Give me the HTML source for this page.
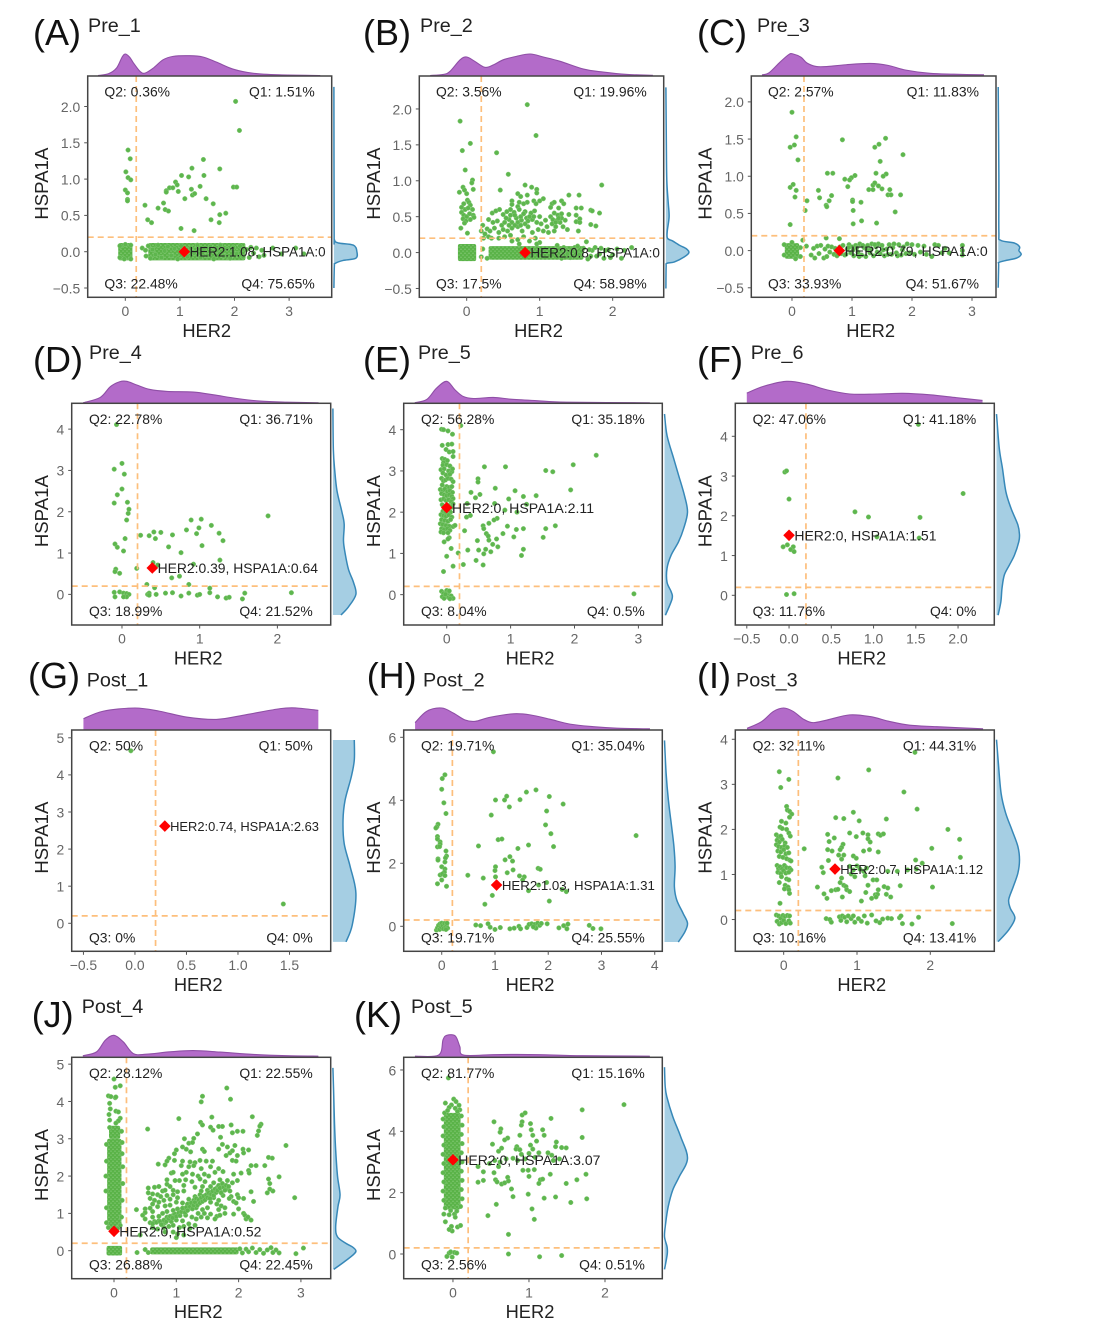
<!DOCTYPE html>
<html>
<head>
<meta charset="utf-8">
<title>HER2 vs HSPA1A scatter panels</title>
<style>
html,body{margin:0;padding:0;background:#fff;width:1096px;height:1323px;overflow:hidden}
svg{display:block;filter:blur(.35px)}
text{font-family:"Liberation Sans",sans-serif}
</style>
</head>
<body>
<svg id="figure" xmlns="http://www.w3.org/2000/svg" width="1096" height="1323" viewBox="0 0 1096 1323">
<defs>
<pattern id="speckle" width="4" height="4" patternUnits="userSpaceOnUse">
<rect width="4" height="4" fill="#5ab348"></rect>
<circle cx="1" cy="1.2" r=".6" fill="#97d38a"></circle>
<circle cx="3" cy="3.1" r=".6" fill="#8ccd7e"></circle>
</pattern>
</defs>
</svg>
<script>
// ---------- Pre_1 ----------
const pre1XTicks=["0","1","2","3"];
const pre1YTicks=["−0.5","0.0","0.5","1.0","1.5","2.0"];
const pre1Quadrants=["Q1: 1.51%","Q2: 0.36%","Q3: 22.48%","Q4: 75.65%"];
const pre1Median=[1.08,0];
const pre1MedianLabel="HER2:1.08, HSPA1A:0";
const pre1Clusters=[[-.13,.13,-.12,.12],[.42,2.2,-.12,.12]];
const pre1TopDensity=[[-.5,0],[-.31,.08],[-.16,.35],[-.06,.85],[0,1],[.08,.85],[.15,.58],[.27,.19],[.36,.11],[.51,.34],[.69,.73],[.875,.89],[1.18,.92],[1.42,.86],[1.67,.62],[1.97,.3],[2.33,.11],[2.82,.03],[3.57,0]];
const pre1RightDensity=[[-.5,0],[-.2,.02],[-.16,.06],[-.12,.4],[-.09,.95],[0,1],[.09,.85],[.12,.2],[.16,.03],[.3,.01],[2.27,0]];
const pre1Points=[[2.02,2.07],[2.09,1.67],[.05,1.4],[.09,1.28],[.01,1.1],[.05,1.02],[.1,.99],[0,.85],[.04,.81],[.04,.72],[.04,.7],[.36,.64],[.41,.44],[.48,.4],[.6,.6],[.7,.67],[.73,.58],[.79,.56],[.75,.84],[.75,.82],[.81,.88],[.87,.88],[.92,.96],[.95,.92],[.97,.83],[1.03,1.05],[1.09,.73],[1.16,1.03],[1.22,1.15],[1.21,.86],[1.23,.78],[1.27,.8],[1.37,.9],[1.44,1.05],[1.43,1.27],[1.48,.73],[1.61,.66],[1.73,1.14],[1.73,.51],[1.84,.53],[1.57,.44],[1.72,.4],[1.98,.89],[2.04,.89],[1.02,.32],[1.26,.29],
[.31,.05],[.37,.02],[.38,-.06],[.42,.08],[.46,-.09],[.5,.03],[.55,-.04],[.6,.09],[.66,-.08],[.72,.01],[.78,.07],[.84,-.05],[.9,.04],[.96,-.1],[1.02,.08],[1.14,-.07],[1.2,.05],[1.26,-.02],[1.32,.09],[1.38,-.08],[1.44,.03],[1.5,-.05],[1.56,.07],[1.62,-.1],[1.68,.02],[1.74,.09],[1.8,-.06],[1.86,.04],[1.92,-.09],[1.98,.06],[2.04,-.03],[2.1,.08],[2.16,-.07],[2.22,.03],[2.27,-.08],[2.3,.06],[2.35,-.02],[2.4,.05],[2.45,-.07],[2.5,.02],[2.54,-.05],[2.7,.05],[2.86,-.03],[3.12,.05],[3.27,-.03],
[-.1,.08],[-.1,-.08],[0,.1],[.1,-.1],[.1,.09],[-.02,-.1]];
// ---------- Pre_2 ----------
const pre2XTicks=["0","1","2"];
const pre2YTicks=["−0.5","0.0","0.5","1.0","1.5","2.0"];
const pre2Quadrants=["Q1: 19.96%","Q2: 3.56%","Q3: 17.5%","Q4: 58.98%"];
const pre2Median=[.8,0];
const pre2MedianLabel="HER2:0.8, HSPA1A:0";
const pre2Clusters=[[-.12,.13,-.12,.12],[.3,1.6,-.1,.09]];
const pre2TopDensity=[[-.5,0],[-.32,.05],[-.23,.19],[-.09,.73],[0,.86],[.11,.66],[.25,.38],[.37,.5],[.5,.73],[.68,.89],[.87,1],[1.05,.86],[1.28,.66],[1.6,.3],[1.87,.16],[2.2,.05],[2.55,.01]];
const pre2RightDensity=[[-.5,0],[-.2,.01],[-.15,.04],[-.13,.37],[-.06,.8],[0,1],[.055,.88],[.1,.6],[.16,.3],[.2,.07],[.3,.06],[.5,.14],[.7,.1],[1,.04],[1.5,.02],[2.3,0]];
const pre2Points=[[-.09,1.83],[.05,1.52],[-.06,1.42],[-.02,1.15],[.08,1.01],[.07,.97],[-.05,.91],[-.1,.84],[-.03,.87],[0,.82],[.09,.88],[.01,.73],[-.04,.68],[.03,.7],[.05,.66],[-.07,.63],[-.02,.6],[.02,.62],[.08,.6],[-.07,.56],[-.04,.52],[0,.5],[.04,.54],[.09,.52],[.1,.49],[-.05,.47],[-.01,.44],[.05,.46],[-.03,.41],[-.08,.34],[.01,.27],[.2,.3],[.22,.38],[.28,.33],[.23,.2],[.25,.26],[.3,.22],
[.83,2.06],[.95,1.63],[.41,1.39],[.57,1.09],[.46,.87],[.8,.94],[.89,.91],[.96,.88],[.96,.83],[.83,.8],[.7,.82],[.74,.78],[1,.72],[1.05,.75],[.92,.72],[.95,.68],[.83,.7],[.72,.7],[.62,.72],[.62,.67],[.7,.64],[.78,.68],[1.4,.8],[1.54,.8],[1.85,.94],[1.17,.68],[1.2,.7],[1.3,.72],[1.33,.68],[1.15,.63],[1.26,.62],[1.5,.62],[1.57,.62],[1.7,.59],[1.72,.58],[1.82,.55],[1.7,.39],[1.77,.37],[1.53,.3],[1.64,.15],
[.35,.55],[.4,.58],[.45,.6],[.5,.53],[.55,.57],[.6,.6],[.65,.56],[.72,.6],[.8,.57],[.88,.55],[.93,.58],[1,.5],[1.08,.45],[1.15,.5],[1.2,.55],[1.25,.52],[1.3,.48],[1.35,.45],[1.4,.53],[1.5,.52],[1.55,.47],[1.5,.43],[1.55,.42],[.3,.46],[.36,.42],[.42,.44],[.48,.38],[.52,.42],[.58,.46],[.62,.42],[.68,.48],[.75,.45],[.82,.48],[.9,.46],[.96,.42],[1.02,.4],[1.1,.36],[1.17,.4],[1.22,.36],[1.28,.42],[1.32,.36],[1.38,.32],[.32,.3],[.38,.34],[.44,.28],[.5,.32],[.56,.3],[.62,.34],[.7,.36],[.76,.3],[.84,.36],[.9,.28],[.98,.32],[1.05,.3],[1.12,.28],[1.2,.3],[.34,.2],[.44,.2],[.52,.22],[.6,.24],[.7,.18],[.78,.22],[.86,.16],[.94,.2],[1,.14],[.62,.16],[.72,.12],[.96,.12],
[.66,.52],[.74,.5],[.78,.54],[.84,.44],[.86,.5],[.92,.5],[.7,.42],[.6,.52],[.54,.48],[1.18,.46],[1.24,.45],[1.26,.48],[1.22,.42],[1.3,.54],[.58,.38],[.66,.38],[.74,.38],[.8,.4],
[1.25,.06],[1.3,-.08],[1.36,.04],[1.42,-.07],[1.48,.07],[1.54,-.03],[1.6,.06],[1.66,-.09],[1.72,.03],[1.78,-.05],[1.84,.06],[1.88,-.08],[1.94,.04],[2,-.03],[2.06,.05],[2.12,-.08],[2.16,.03],[2.26,.07],[.22,.05],[.2,-.06],[.28,-.08],[1.24,.1],[1.33,.07],[1.38,-.02],[1.45,.02],[1.52,.09],[1.68,.04],[1.7,-.05],[1.76,.07],[1.82,-.02],[1.9,.03],[1.97,-.07]];
// ---------- Pre_3 ----------
const pre3XTicks=["0","1","2","3"];
const pre3YTicks=["−0.5","0.0","0.5","1.0","1.5","2.0"];
const pre3Quadrants=["Q1: 11.83%","Q2: 2.57%","Q3: 33.93%","Q4: 51.67%"];
const pre3Median=[.79,0];
const pre3MedianLabel="HER2:0.79, HSPA1A:0";
const pre3Clusters=[[-.12,.12,-.11,.1]];
const pre3TopDensity=[[-.5,.03],[-.38,.13],[-.2,.62],[-.05,.98],[.02,1],[.15,.85],[.25,.58],[.4,.42],[.6,.42],[.9,.5],[1.3,.56],[1.6,.47],[1.9,.25],[2.3,.1],[2.7,.06],[3.2,.03]];
const pre3RightDensity=[[-.5,0],[-.2,.02],[-.16,.03],[-.13,.37],[-.1,.8],[-.05,1],[0,.9],[.05,.93],[.1,.72],[.14,.1],[.25,.03],[1,.03],[2.2,0]];
const pre3Points=[[0,1.86],[.84,1.49],[1.56,1.51],[.07,1.53],[-.03,1.39],[.04,1.42],[1.45,1.43],[1.38,1.39],[1.85,1.29],[.1,1.22],[1.47,1.2],[.59,1.04],[.68,1.04],[1.4,1.04],[1.57,1.03],[1.52,1],[1.05,1.01],[.99,.98],[.96,.95],[.88,.96],[.93,.86],[.02,.89],[-.03,.85],[.07,.81],[.05,.72],[.44,.81],[.46,.71],[.66,.74],[.62,.67],[.57,.61],[.58,.59],[.25,.67],[.22,.54],[1.01,.68],[1.01,.66],[1.15,.65],[1.02,.54],[1.72,.52],[1.02,.36],[1.16,.4],[1.41,.37],[-.03,.35],[1.28,.82],[1.35,.82],[1.35,.88],[1.38,.91],[1.44,.87],[1.5,.83],[1.63,.82],[1.6,.75],[1.65,.75],[1.81,.75],[.18,.14],[.24,.06],[.57,.17],[.79,.16],
[-.13,.08],[-.13,-.06],[.14,.04],[.14,-.08],[0,.11],[.06,-.11],
[.32,-.06],[.36,.03],[.38,-.1],[.42,.06],[.45,-.04],[.48,.07],[.53,-.1],[.55,.02],[.58,-.08],[.6,.06],[.63,-.02],[.66,.05],[.7,-.05],[.72,.03],[.75,-.07],[.8,.05],[.82,-.04],[.85,.07],[.88,-.06],[.92,.02],[.95,.08],[.98,-.03],[1,.05],[1.03,-.07],[1.06,.07],[1.1,-.02],[1.13,.09],[1.16,-.06],[1.2,.04],[1.23,-.08],[1.26,.07],[1.3,-.03],[1.33,.09],[1.36,-.07],[1.4,.05],[1.44,.09],[1.47,-.04],[1.5,.07],[1.54,-.07],[1.58,.02],[1.62,.08],[1.66,-.05],[1.7,.09],[1.74,-.03],[1.78,.08],[1.82,-.06],[1.86,.05],[1.92,.09],[1.96,-.03],[2,.08],[2.04,-.05],[2.1,.07],[2.14,-.02],[2.2,.06],[2.24,-.05],[2.33,-.08],[2.38,.08],[2.44,.07],[2.5,-.03],[2.55,.03],[2.62,-.03],[2.84,.07],[2.84,-.06],[2.84,0],
[.9,-.05],[.94,.04],[1.02,.01],[1.08,.04],[1.12,-.08],[1.18,.07],[1.25,.01],[1.32,.02],[1.38,.08],[1.42,-.02],[1.52,.01],[1.6,-.05],[1.68,.04],[1.76,-.07],[1.84,.01],[1.9,-.04]];
// ---------- Pre_4 ----------
const pre4XTicks=["0","1","2"];
const pre4YTicks=["0","1","2","3","4"];
const pre4Quadrants=["Q1: 36.71%","Q2: 22.78%","Q3: 18.99%","Q4: 21.52%"];
const pre4Median=[.39,.64];
const pre4MedianLabel="HER2:0.39, HSPA1A:0.64";
const pre4Clusters=[];
const pre4TopDensity=[[-.5,0],[-.28,.25],[-.15,.75],[-.03,.98],[.06,1],[.19,.83],[.36,.62],[.58,.53],[.92,.5],[1.18,.37],[1.48,.2],[1.78,.08],[2.12,.03],[2.53,0]];
const pre4RightDensity=[[-.5,.35],[-.3,.68],[0,1],[.3,.89],[.6,.68],[1,.53],[1.3,.46],[1.7,.49],[2,.39],[2.5,.18],[3,.08],[3.5,.02],[4.5,0]];
const pre4Points=[[-.07,4.11],[0,3.17],[-.1,3.03],[.03,2.91],[0,2.55],[-.06,2.41],[-.1,2.21],[.07,2.23],[.09,2.06],[.08,1.96],[.06,1.8],[.04,1.35],[-.09,1.22],[-.06,1.14],[.02,1.05],[-.08,.61],[-.09,.55],[-.03,.51],[.19,.63],[.24,1.43],[.35,1.42],[.41,1.51],[.43,1.35],[.5,1.5],[.65,1.44],[.6,1.15],[.76,1.01],[.83,1.56],[.89,1.8],[.99,1.61],[1.02,1.82],[.96,1.47],[1.03,1.18],[1.15,1.67],[1.25,1.48],[1.3,1.3],[1.88,1.9],[1.26,.83],[.4,.77],[.46,.71],[.92,.73],[.64,.4],[.74,.44],[.32,.24],[.86,.24],[.42,.16],[1.13,.15],[-.1,.05],[-.09,-.06],[-.03,.06],[.02,.03],[.04,-.03],[.06,.02],[.09,0],[.06,-.06],[.02,-.06],[.33,0],[.35,.03],[.35,-.02],[.44,0],[.56,.03],[.65,.04],[.76,-.04],[.86,.03],[.97,-.02],[1,0],[1.13,.04],[1.23,-.06],[1.34,-.09],[1.38,-.07],[1.55,-.11],[1.58,.03],[2.18,.04]];
// ---------- Pre_5 ----------
const pre5XTicks=["0","1","2","3"];
const pre5YTicks=["0","1","2","3","4"];
const pre5Quadrants=["Q1: 35.18%","Q2: 56.28%","Q3: 8.04%","Q4: 0.5%"];
const pre5Median=[0,2.11];
const pre5MedianLabel="HER2:0, HSPA1A:2.11";
const pre5Clusters=[];
const pre5TopDensity=[[-.5,0],[-.31,.16],[-.16,.68],[0,1],[.13,.6],[.26,.29],[.42,.2],[.73,.25],[1,.17],[1.41,.1],[1.88,.03],[3.18,0]];
const pre5RightDensity=[[-.5,.04],[-.1,.33],[.07,.29],[.3,.11],[.64,.11],[.96,.29],[1.28,.61],[1.6,.83],[2,1],[2.4,.87],[2.9,.61],[3.3,.4],[3.86,.11],[4.38,0]];
const pre5Points=[[-.08,4.01],[-.05,4],[.02,3.97],[.09,3.89],[.22,4.1],[-.07,3.62],[.02,3.64],[.08,3.65],[-.01,3.52],[.04,3.46],[.1,3.47],[.1,3.35],[-.07,3.3],[-.03,3.28],[-.05,3.2],[.01,3.25],[-.06,3.14],[0,3.15],[.05,3.12],[-.09,3.03],[-.04,3.05],[.03,3],[.08,2.98],[.09,3.05],[-.06,2.95],[-.01,2.9],[.05,2.92],[-.08,2.82],[-.05,2.76],[-.02,2.78],[.02,2.82],[.07,2.8],[.1,2.74],[-.07,2.66],[0,2.62],[.04,2.6],[.08,2.62],[-.1,2.55],[-.06,2.52],[-.03,2.56],[.01,2.5],[.05,2.52],[.09,2.48],[-.08,2.45],[-.04,2.42],[0,2.4],[.04,2.42],[.08,2.38],[.1,2.33],[-.09,2.3],[-.05,2.32],[-.01,2.28],[.03,2.3],[.07,2.26],[.1,2.2],[-.07,2.18],[.03,2.16],[.08,2.12],[-.06,2.02],[-.02,2],[.02,2.03],[.06,2],[-.09,1.94],[-.05,1.92],[-.01,1.9],[.03,1.93],[.08,1.88],[-.08,1.82],[-.03,1.8],[.02,1.78],[.06,1.82],[-.1,1.72],[-.06,1.7],[-.01,1.68],[.04,1.66],[.1,1.65],[.13,1.68],[-.08,1.6],[-.04,1.58],[.01,1.6],[.05,1.56],[-.09,1.52],[-.05,1.5],[.02,1.5],[.04,1.38],[.02,1.35],[-.04,1.28],[.07,1.12],[0,.93],[.18,1.01],[-.05,.56],[.1,.69],
[2.34,3.38],[1.98,3.15],[1.55,3.01],[1.66,2.98],[.59,3.1],[.92,3.1],[.49,2.81],[.49,2.73],[.76,2.58],[.38,2.48],[.52,2.43],[.45,2.35],[1.07,2.52],[.97,2.32],[1.2,2.38],[1.4,2.4],[1.94,2.54],[.32,2.21],[.75,2.21],[.91,2.05],[1.1,2],[1.25,2.19],[.31,1.88],[.37,1.92],[.79,1.85],[.74,1.81],[.66,1.73],[.57,1.67],[.58,1.6],[.95,1.66],[1.09,1.58],[1.2,1.6],[1.55,1.6],[1.7,1.67],[.28,1.55],[.88,1.48],[.62,1.48],[.65,1.42],[1.05,1.4],[.78,1.35],[.66,1.32],[.48,1.31],[1.51,1.39],[.72,1.22],[.8,1.16],[.61,1.1],[1.2,1.1],[.33,1.08],[.5,1.08],[.69,1.04],[.58,.99],[1.17,.95],[.46,.83],[.26,.73],[.57,.72],
[-.08,.08],[-.05,.03],[-.07,-.05],[-.04,-.09],[0,.1],[.02,.05],[.04,.09],[.01,-.03],[-.02,.01],[.03,-.07],[.07,-.03],[.1,-.09],[.05,-.1],[2.93,.02]];
// ---------- Pre_6 ----------
const pre6XTicks=["−0.5","0.0","0.5","1.0","1.5","2.0"];
const pre6YTicks=["0","1","2","3","4"];
const pre6Quadrants=["Q1: 41.18%","Q2: 47.06%","Q3: 11.76%","Q4: 0%"];
const pre6Median=[0,1.51];
const pre6MedianLabel="HER2:0, HSPA1A:1.51";
const pre6Clusters=[];
const pre6TopDensity=[[-.5,.45],[-.3,.77],[-.03,1],[.21,.87],[.45,.6],[.72,.41],[1.04,.41],[1.35,.44],[1.67,.37],[1.98,.24],[2.29,.11]];
const pre6RightDensity=[[-.5,.07],[-.16,.19],[.18,.24],[.51,.34],[.76,.56],[1.01,.78],[1.35,.97],[1.52,1],[1.77,.93],[2.19,.63],[2.6,.41],[3.19,.26],[3.7,.12],[4.56,0]];
const pre6Points=[[1.53,4.3],[-.05,3.1],[-.03,3.13],[0,2.42],[2.06,2.56],[.78,2.1],[.94,1.97],[1.55,1.96],[1.54,1.44],[1.04,1.47],[-.02,1.27],[-.07,1.22],[.05,1.22],[.02,1.15],[.06,1.1],[-.03,.02],[.06,.04]];
// ---------- Post_1 ----------
const post1XTicks=["−0.5","0.0","0.5","1.0","1.5"];
const post1YTicks=["0","1","2","3","4","5"];
const post1Quadrants=["Q1: 50%","Q2: 50%","Q3: 0%","Q4: 0%"];
const post1Median=[.29,2.62];
const post1MedianLabel="HER2:0.74, HSPA1A:2.63";
const post1Clusters=[];
const post1TopDensity=[[-.5,.5],[-.31,.85],[0,1],[.24,.85],[.5,.58],[.79,.47],[1.08,.69],[1.41,.97],[1.57,1],[1.78,.89]];
const post1RightDensity=[[-.5,.57],[-.05,.84],[.81,1],[1.53,.75],[2.15,.49],[2.78,.44],[3.32,.53],[3.95,.8],[4.4,.93],[4.94,.93]];
const post1Points=[[-.04,4.65],[1.44,.52]];
// ---------- Post_2 ----------
const post2XTicks=["0","1","2","3","4"];
const post2YTicks=["0","2","4","6"];
const post2Quadrants=["Q1: 35.04%","Q2: 19.71%","Q3: 19.71%","Q4: 25.55%"];
const post2Median=[1.03,1.31];
const post2MedianLabel="HER2:1.03, HSPA1A:1.31";
const post2Clusters=[];
const post2TopDensity=[[-.5,.32],[-.28,.85],[0,1],[.22,.76],[.44,.44],[.63,.38],[.91,.57],[1.35,.73],[1.66,.68],[2.03,.48],[2.41,.25],[2.85,.13],[3.29,.06],[3.91,.03]];
const post2RightDensity=[[-.5,.6],[-.17,.89],[.1,1],[.41,.81],[.84,.53],[1.26,.43],[1.9,.46],[2.53,.41],[3.16,.31],[4,.17],[4.86,.07],[5.9,0]];
const post2Points=[[.97,5.54],[.06,4.81],[.01,4.69],[0,4.35],[.04,3.92],[.08,3.58],[-.07,3.24],[-.09,3.16],[-.11,3.12],[-.08,2.85],[-.08,2.77],[-.03,2.68],[-.03,2.61],[-.08,2.52],[-.04,2.53],[.08,2.39],[.09,2.23],[-.07,2.14],[-.07,2.1],[.07,2.17],[.06,2.04],[0,1.89],[.06,1.82],[.05,1.72],[-.03,1.63],[.01,1.66],[.06,1.61],[0,1.47],[-.08,1.35],[.09,1.27],
[1.01,4.01],[1.18,4.01],[1.22,4.13],[1.27,3.79],[1.47,4.02],[1.59,4.26],[1.77,4.33],[2.02,4.12],[2.28,3.88],[.93,3.53],[1.97,3.66],[1.95,3.22],[2.05,2.94],[2.1,2.53],[3.65,2.88],[1.06,2.75],[1.13,2.77],[.69,2.55],[1.63,2.58],[1.43,2.47],[1.28,2.21],[1.19,2.11],[1.33,2.07],[1.01,1.89],[1,1.77],[1.23,1.7],[1.34,1.79],[1.81,1.84],[1.85,1.81],[.49,1.62],[.78,1.53],[1.01,1.57],[1.46,1.6],[1.55,1.57],[1.52,1.47],[1.82,1.31],[1.97,1.39],[1.63,1.13],[2.26,1.17],[2.34,1.1],[.95,.98],[2.02,.8],[.81,.7],
[-.1,-.12],[-.08,-.05],[-.06,.03],[-.04,-.1],[-.03,.08],[-.01,-.03],[0,.1],[.02,.02],[.03,-.08],[.05,.09],[.07,-.02],[.09,.05],[.1,.1],[.11,-.06],[.08,-.1],[.64,.04],[.73,.02],[.87,.08],[.91,-.03],[1,-.1],[1.1,-.04],[1.28,-.08],[1.36,-.06],[1.45,0],[1.48,-.08],[1.6,-.04],[1.64,.06],[1.69,.08],[1.75,.06],[1.77,-.06],[1.8,.1],[1.84,.03],[1.87,.09],[1.72,-.02],[1.98,.08],[2.2,-.05],[2.29,.02],[2.35,-.08],[2.37,.07],[2.77,.03],[2.84,-.07],[2.99,-.08]];
// ---------- Post_3 ----------
const post3XTicks=["0","1","2"];
const post3YTicks=["0","1","2","3","4"];
const post3Quadrants=["Q1: 44.31%","Q2: 32.11%","Q3: 10.16%","Q4: 13.41%"];
const post3Median=[.7,1.12];
const post3MedianLabel="HER2:0.7, HSPA1A:1.12";
const post3Clusters=[];
const post3TopDensity=[[-.5,.05],[-.3,.37],[-.14,.84],[0,1],[.13,.84],[.27,.48],[.4,.32],[.59,.44],[.9,.68],[1.18,.6],[1.45,.37],[1.72,.2],[2.09,.13],[2.72,.03]];
const post3RightDensity=[[-.49,.07],[-.23,.53],[.03,.8],[.25,.6],[.44,.53],[.73,.73],[1.03,.93],[1.32,1],[1.62,.93],[1.99,.67],[2.36,.4],[2.8,.2],[3.54,.07],[3.99,0]];
const post3Points=[[-.06,3.28],[.07,3.11],[-.04,2.93],[.74,3.14],[1.16,3.32],[1.79,3.71],[1.64,2.83],[1.82,2.45],[.04,2.51],[.05,2.43],[.08,2.4],[.11,2.34],[.08,2.27],[-.03,2.18],[.03,2.14],[-.05,2.05],[-.02,2.02],[.04,2],[.07,1.92],[.09,1.85],[-.1,1.88],[-.07,1.83],[-.04,1.85],[-.09,1.76],[-.06,1.72],[-.02,1.78],[.02,1.7],[-.1,1.66],[-.07,1.62],[-.03,1.6],[.01,1.63],[.05,1.6],[-.08,1.52],[-.04,1.5],[0,1.55],[.03,1.46],[.07,1.48],[-.06,1.4],[-.01,1.38],[.04,1.35],[.08,1.32],[.1,1.3],[-.09,1.2],[-.07,1.13],[-.05,1.17],[-.02,1.12],[.01,1.2],[.04,1.15],[.08,1.14],[.1,1.1],[-.08,1.05],[-.04,1.02],[0,1.08],[.03,1.03],[.07,1.05],[-.03,.95],[.04,.9],[.07,.88],[-.06,.82],[.02,.76],[.06,.72],[.01,.68],[.07,.66],[.08,.58],[-.05,.36],
[.71,2.26],[.82,2.24],[.95,2.38],[1.03,2.19],[1.4,2.23],[2.24,2],[2.4,1.78],[.6,1.89],[.9,1.92],[.99,1.84],[1.08,1.92],[1.15,1.88],[1.29,1.9],[1.32,1.87],[1.36,1.9],[.69,1.81],[.62,1.73],[1.15,1.79],[1.18,1.72],[.81,1.67],[.79,1.6],[.28,1.57],[.6,1.55],[.66,1.52],[.77,1.55],[1.09,1.52],[1.17,1.55],[1.29,1.5],[2.02,1.58],[.75,1.43],[.82,1.43],[.95,1.41],[.99,1.36],[2.41,1.38],[.79,1.34],[.61,1.31],[1.8,1.32],[1.89,1.25],[.52,1.16],[.54,1.04],[.73,1.12],[.9,1.18],[.95,1.1],[1,1.19],[1.04,1.12],[1.09,1.07],[1.13,1.14],[.97,.95],[.92,1.01],[1.11,.97],[1.42,1.07],[1.55,1.07],[1.69,1.1],[1.81,1.12],[.79,.92],[1.22,.88],[1.27,.88],[.77,.82],[.82,.76],[.85,.73],[1.15,.76],[.46,.72],[.71,.66],[.65,.64],[.74,.67],[.86,.66],[.9,.62],[1.37,.73],[1.42,.7],[1.59,.75],[2.03,.72],[1.12,.6],[1.29,.66],[1.25,.55],[1.28,.56],[1.4,.56],[.55,.57],[.59,.47],[.8,.5],[1.2,.47],[1.26,.5],[1.46,.5],[1.06,.41],
[-.1,.1],[-.09,-.04],[-.07,.08],[-.06,-.1],[-.04,.03],[-.03,-.07],[-.01,.09],[0,-.02],[.02,.07],[.03,-.09],[.05,.09],[.07,-.03],[.08,.08],[.09,-.08],[.58,.02],[.63,0],[.65,-.06],[.76,.06],[.78,-.02],[.8,.08],[.83,.05],[.86,-.05],[.88,.08],[.92,.02],[.95,.08],[.97,-.06],[1.02,.02],[1.06,-.04],[1.1,.08],[1.14,-.08],[1.2,.1],[1.26,-.03],[1.31,-.07],[1.35,.01],[1.42,.03],[1.47,.02],[1.58,.04],[1.6,.08],[1.62,-.09],[1.75,-.1],[1.84,.05],[2.3,-.09]];
// ---------- Post_4 ----------
const post4XTicks=["0","1","2","3"];
const post4YTicks=["0","1","2","3","4","5"];
const post4Quadrants=["Q1: 22.55%","Q2: 28.12%","Q3: 26.88%","Q4: 22.45%"];
const post4Median=[0,.52];
const post4MedianLabel="HER2:0, HSPA1A:0.52";
const post4Clusters=[[-.12,.13,-.13,.13],[-.11,.12,.62,3],[-.08,.1,3,3.35],[.58,2,-.1,.09]];
const post4TopDensity=[[-.5,.05],[-.28,.23],[-.14,.77],[0,1],[.15,.69],[.31,.15],[.52,.12],[.9,.23],[1.27,.29],[1.7,.22],[2.24,.11],[2.77,.05],[3.28,.03]];
const post4RightDensity=[[-.5,.04],[-.3,.49],[-.1,.9],[0,1],[.1,.85],[.2,.56],[.37,.2],[.64,.12],[1.18,.22],[1.5,.31],[2,.2],[2.7,.12],[3.4,.07],[4.3,.03],[4.9,0]];
const post4Points=[[.0,4.6],[.1,4.42],[.02,4.38],[-.09,4.15],[-.05,4.13],[.02,4.1],[.03,4.12],[-.07,3.95],[-.06,3.8],[-.08,3.65],[.03,3.74],[.07,3.72],[-.07,3.5],[.1,3.55],[.07,3.48],[.03,3.42],[-.07,3.3],[.12,3.2],[.13,2.9],[-.12,2.85],[.13,2.6],[-.12,2.4],[.14,2.25],[-.13,2],[.14,1.8],[-.13,1.6],[.13,1.35],[-.12,1.15],[.12,.9],[-.12,.75],[-.09,.62],[.06,.6],[-.02,.58],[.1,.68],
[1.81,4.36],[1.42,4.14],[1.4,3.99],[1.87,4.06],[1.04,3.54],[1.57,3.58],[2.22,3.59],[.54,3.26],[1.39,3.44],[1.42,3.37],[1.55,3.31],[1.68,3.33],[1.74,3.33],[1.88,3.37],[2.36,3.39],[2.34,3.34],[2.32,3.21],[2.3,3.09],[1.59,3.23],[1.9,3.16],[1.98,3.2],[2.07,3.2],[1.34,3.13],[1.28,3.01],[1.13,3],[1.71,3.04],[2.76,2.82],[1.2,2.88],[1.26,2.9],[1.1,2.78],[1.74,2.85],[1.82,2.78],[1.94,2.82],[2.07,2.72],[2.08,2.62],[2.16,2.7],[1.0,2.7],[.97,2.6],[1.16,2.72],[1.23,2.65],[1.42,2.72],[1.45,2.66],[1.68,2.72],[1.86,2.62],[1.8,2.55],[1.9,2.68],[1.98,2.55],[.97,2.42],[.88,2.48],[.85,2.4],[.82,2.3],[.71,2.32],[1.1,2.4],[1.22,2.38],[1.3,2.36],[1.38,2.42],[1.48,2.4],[1.58,2.4],[1.9,2.42],[1.96,2.4],[2.48,2.5],[2.54,2.48],[2.2,2.28],[2.28,2.28],[2.42,2.28],[1.08,2.28],[1.2,2.25],[1.28,2.28],[1.4,2.2],[1.55,2.25],[1.68,2.2],[2.16,2.15],[2.17,2.08],[2.65,1.98],[.92,2.08],[.95,2.1],[1.1,2.05],[1.16,2.1],[1.26,2.05],[1.35,2],[1.45,2.05],[1.62,2.1],[1.52,2],[1.75,2.12],[1.92,2.05],[2.04,2.08],[1.05,1.88],[.98,1.88],[.85,1.9],[1.15,1.9],[1.25,1.85],[1.38,1.92],[1.46,1.85],[1.6,1.82],[1.7,1.9],[1.82,1.88],[1.9,1.82],[1.98,1.88],[2.48,1.92],[2.5,1.8],[.85,1.78],[.9,1.72],[1.12,1.75],[1.3,1.7],[1.42,1.72],[1.55,1.72],[1.66,1.7],[1.75,1.72],[1.8,1.65],[.55,1.68],[.65,1.7],[.72,1.72],[.78,1.6],[.82,1.62],[.95,1.62],[1.02,1.58],[1.12,1.6],[1.4,1.6],[1.5,1.62],[1.62,1.58],[1.7,1.6],[2.55,1.6],[2.5,1.65],[2.46,1.55],[2.2,1.58],[.55,1.55],[.62,1.52],[.7,1.5],[.75,1.45],[.85,1.48],[.95,1.5],[1.02,1.42],[1.3,1.45],[1.38,1.5],[1.5,1.48],[1.58,1.5],[1.75,1.48],[1.88,1.45],[1.98,1.5],[.58,1.4],[.65,1.35],[.72,1.3],[.8,1.35],[.9,1.38],[1,1.3],[1.2,1.38],[1.28,1.35],[1.44,1.38],[1.6,1.42],[1.68,1.35],[1.85,1.4],[1.92,1.32],[2,1.42],[2.08,1.4],[2.9,1.42],[.5,1.12],[.58,1.14],[.62,1.25],[.7,1.18],[.82,1.2],[.9,1.22],[1.1,1.28],[1.18,1.25],[1.25,1.22],[1.36,1.28],[1.55,1.3],[1.65,1.25],[1.72,1.2],[1.96,1.28],[2.24,1.32],[.36,1.1],[.5,1.02],[.62,1.05],[.78,1],[.85,1.05],[.95,1.08],[1.02,1.12],[1.12,1.08],[1.2,1.12],[1.32,1.15],[1.42,1.1],[1.5,1.15],[1.68,1.1],[1.78,1.15],[2.0,1.12],[.46,.95],[.5,.85],[.62,.9],[.72,.92],[.85,.9],[.95,.95],[1.05,.98],[1.15,.95],[1.25,.9],[1.35,1],[1.45,1],[1.55,.98],[1.65,.92],[1.78,1],[1.92,.98],[2.08,1],[2.1,.95],[.58,.75],[.65,.78],[.72,.8],[.82,.75],[.92,.78],[1,.82],[1.1,.8],[1.2,.72],[1.32,.85],[1.4,.9],[1.5,.88],[1.62,.85],[1.7,.95],[2.12,.85],[2.15,.9],[2.2,.82],[.42,.42],[.62,.62],[.7,.58],[.8,.62],[.88,.65],[.95,.68],[1.05,.62],[1.12,.65],[1.22,.6],[1.3,.68],[.95,.5],[1.02,.45],[1.12,.42],[.82,.5],[1.0,.35],
[.62,.72],[.68,.76],[.74,.78],[.76,.7],[.8,.82],[.84,.78],[.88,.86],[.9,.92],[.94,.88],[.98,.98],[1,.92],[1.04,1.02],[1.06,.94],[1.08,1.04],[1.1,1.14],[1.14,1.02],[1.16,1.16],[1.18,1.08],[1.22,1.18],[1.24,1.28],[1.26,1.12],[1.28,1.22],[1.3,1.3],[1.32,1.4],[1.34,1.22],[1.36,1.36],[1.38,1.28],[1.4,1.42],[1.42,1.32],[1.44,1.46],[1.46,1.36],[1.48,1.5],[1.5,1.42],[1.52,1.55],[1.54,1.4],[1.56,1.52],[1.58,1.6],[1.6,1.48],[1.62,1.65],[1.64,1.56],[1.66,1.62],[1.68,1.75],[1.7,1.68],[1.72,1.55],[1.74,1.8],[1.76,1.7],[1.78,1.62],[1.8,1.75],[1.84,1.72],[1.86,1.6],
[.37,-.05],[.5,.03],[.55,-.05],[2.02,.05],[2.06,-.06],[2.12,.04],[2.16,-.03],[2.22,.07],[2.28,-.05],[2.34,.03],[2.4,-.07],[2.46,.02],[2.52,.08],[2.55,-.05],[2.6,.02],[2.65,-.06],[2.92,-.08],[3.04,.07]];
// ---------- Post_5 ----------
const post5XTicks=["0","1","2"];
const post5YTicks=["0","2","4","6"];
const post5Quadrants=["Q1: 15.16%","Q2: 81.77%","Q3: 2.56%","Q4: 0.51%"];
const post5Median=[0,3.07];
const post5MedianLabel="HER2:0, HSPA1A:3.07";
const post5Clusters=[[-.12,.1,1.45,4.6]];
const post5TopDensity=[[-.5,.03],[-.19,.08],[-.13,.8],[-.08,1],[.03,.97],[.09,.48],[.14,.08],[.53,.1],[.84,.11],[1.14,.1],[1.71,.05],[2.59,.03]];
const post5RightDensity=[[-.5,0],[0,.12],[.24,.11],[.57,0],[1,.05],[1.54,.16],[2.09,.36],[2.52,.64],[3.12,1],[3.83,.7],[4.48,.36],[5.13,.1],[5.46,.03],[6.09,0]];
const post5Points=[[-.06,5.74],[.01,5.05],[.04,4.97],[-.1,4.92],[-.02,4.86],[.08,4.85],[.09,4.7],[-.11,4.6],[-.05,4.78],[.03,4.75],[-.12,1.3],[-.05,1.28],[.02,1.3],[.03,1.2],[-.1,1.05],[-.02,.9],[.06,.88],[.1,.93],[-.01,.75],[-.05,.8],[-.05,.03],[-.08,-.08],[-.03,.07],[-.01,-.1],[.02,.05],[.05,.03],
[-.13,4.4],[.11,4.5],[-.12,4.15],[.12,4.2],[-.13,3.85],[.11,3.9],[-.12,3.55],[.12,3.6],[-.13,3.25],[.11,3.3],[-.12,2.95],[.12,3],[-.13,2.65],[.11,2.7],[-.12,2.35],[.12,2.4],[-.13,2.05],[.11,2.1],[-.12,1.75],[.12,1.8],[-.1,1.5],[.1,1.55],[.05,1.4],[-.03,1.42],[-.07,4.68],[.06,4.65],
[2.25,4.87],[1.7,4.7],[.91,4.53],[.95,4.6],[1.29,4.42],[.54,4.31],[.91,4.31],[.9,4.2],[1.02,4.25],[1.03,4.05],[1.18,4.05],[.63,4.08],[.62,3.97],[1.2,3.87],[1.05,3.87],[.88,3.87],[1.7,3.8],[1.1,3.68],[1.36,3.65],[.72,3.78],[.68,3.72],[.52,3.58],[1.02,3.55],[1.35,3.5],[1.43,3.47],[1.49,3.46],[.84,3.5],[.83,3.42],[.88,3.4],[.64,3.45],[.6,3.35],[1.05,3.42],[1.13,3.3],[1,3.28],[.9,3.25],[.79,3.12],[.85,3.05],[.95,3.1],[1.08,3.15],[1.25,3.3],[1.3,3.22],[1.32,3.05],[1.4,3.1],[.7,3.1],[.62,3],[.55,3.05],[.48,2.95],[.33,2.85],[.6,2.85],[.54,2.65],[.4,2.68],[.92,2.73],[.99,2.73],[1.07,2.75],[1.28,2.6],[1,2.53],[1.15,2.42],[1.18,2.44],[1.75,2.6],[1.63,2.42],[1.49,2.3],[.72,2.5],[.73,2.38],[.56,2.42],[.58,2.35],[.64,2.28],[.68,2.32],[.33,2.34],[.4,2.4],[.77,2.12],[1.13,2.3],[.99,1.95],[.79,1.87],[1.2,1.82],[1.35,1.86],[1.76,1.8],[1.55,1.68],[.57,1.62],[1.04,1.47],[1.07,1.13],[.46,1.25],[.73,.64],[.73,0],[1.14,-.09],[1.43,-.05]];

// ---------- Layout (geometry only, separate from the data) ----------
const panelLayouts=[
 {id:"pre-1",title:"Pre_1",letter:"(A)",box:[87.7,76,331.7,297.3],xDomain:[-.689,3.78],yDomain:[-.628,2.42],letterPos:[33,45],titlePos:[88,32],yTitleX:41.5,labelSize:13.4,qInset:[16.7,17]},
 {id:"pre-2",title:"Pre_2",letter:"(B)",box:[419.3,76,663.7,297.3],xDomain:[-.649,2.699],yDomain:[-.623,2.459],letterPos:[363,45],titlePos:[420,32],yTitleX:373.5,labelSize:13.5,qInset:[16.7,17]},
 {id:"pre-3",title:"Pre_3",letter:"(C)",box:[751.3,76,996,297.3],xDomain:[-.678,3.4],yDomain:[-.628,2.348],letterPos:[697,45],titlePos:[757,32],yTitleX:705,labelSize:14.1,qInset:[16.7,17]},
 {id:"pre-4",title:"Pre_4",letter:"(D)",box:[71.7,403.3,330.7,625],xDomain:[-.647,2.686],yDomain:[-.741,4.625],letterPos:[33,372],titlePos:[89,359],yTitleX:41.5,labelSize:13.9,qInset:[17.3,18]},
 {id:"pre-5",title:"Pre_5",letter:"(E)",box:[403.7,403.3,662.3,625],xDomain:[-.673,3.374],yDomain:[-.736,4.64],letterPos:[363,372],titlePos:[418,359],yTitleX:373.5,labelSize:14.1,qInset:[17.3,17.5]},
 {id:"pre-6",title:"Pre_6",letter:"(F)",box:[735.3,403.3,994.3,625],xDomain:[-.636,2.429],yDomain:[-.747,4.83],letterPos:[697,372],titlePos:[750.7,359],yTitleX:705,labelSize:14,qInset:[17.3,18]},
 {id:"post-1",title:"Post_1",letter:"(G)",box:[71.7,730,330.7,951.3],xDomain:[-.614,1.9],yDomain:[-.755,5.21],letterPos:[28,688],titlePos:[86.7,686.7],yTitleX:41.5,labelSize:12.9,qInset:[17.3,18]},
 {id:"post-2",title:"Post_2",letter:"(H)",box:[403.7,730,662.3,951.3],xDomain:[-.714,4.142],yDomain:[-.794,6.232],letterPos:[366.7,688],titlePos:[423,686.7],yTitleX:373.5,labelSize:13.25,qInset:[17.3,17.5]},
 {id:"post-3",title:"Post_3",letter:"(I)",box:[735.3,730,994.3,951.3],xDomain:[-.66,2.873],yDomain:[-.705,4.206],letterPos:[697,688],titlePos:[736,686.7],yTitleX:705,labelSize:13,qInset:[17.3,18]},
 {id:"post-4",title:"Post_4",letter:"(J)",box:[71.7,1057.3,330.7,1278.7],xDomain:[-.679,3.478],yDomain:[-.751,5.184],letterPos:[31.7,1027],titlePos:[81.7,1013],yTitleX:41.5,labelSize:14,qInset:[17.3,18]},
 {id:"post-5",title:"Post_5",letter:"(K)",box:[403.7,1057.3,662.3,1278.7],xDomain:[-.648,2.754],yDomain:[-.805,6.413],letterPos:[354,1027],titlePos:[411,1013],yTitleX:373.5,labelSize:14,qInset:[17.3,17.5]}
];
const panelSeries=[
 {xTicks:pre1XTicks,yTicks:pre1YTicks,quadrants:pre1Quadrants,median:pre1Median,medianLabel:pre1MedianLabel,clusters:pre1Clusters,top:pre1TopDensity,right:pre1RightDensity,points:pre1Points},
 {xTicks:pre2XTicks,yTicks:pre2YTicks,quadrants:pre2Quadrants,median:pre2Median,medianLabel:pre2MedianLabel,clusters:pre2Clusters,top:pre2TopDensity,right:pre2RightDensity,points:pre2Points},
 {xTicks:pre3XTicks,yTicks:pre3YTicks,quadrants:pre3Quadrants,median:pre3Median,medianLabel:pre3MedianLabel,clusters:pre3Clusters,top:pre3TopDensity,right:pre3RightDensity,points:pre3Points},
 {xTicks:pre4XTicks,yTicks:pre4YTicks,quadrants:pre4Quadrants,median:pre4Median,medianLabel:pre4MedianLabel,clusters:pre4Clusters,top:pre4TopDensity,right:pre4RightDensity,points:pre4Points},
 {xTicks:pre5XTicks,yTicks:pre5YTicks,quadrants:pre5Quadrants,median:pre5Median,medianLabel:pre5MedianLabel,clusters:pre5Clusters,top:pre5TopDensity,right:pre5RightDensity,points:pre5Points},
 {xTicks:pre6XTicks,yTicks:pre6YTicks,quadrants:pre6Quadrants,median:pre6Median,medianLabel:pre6MedianLabel,clusters:pre6Clusters,top:pre6TopDensity,right:pre6RightDensity,points:pre6Points},
 {xTicks:post1XTicks,yTicks:post1YTicks,quadrants:post1Quadrants,median:post1Median,medianLabel:post1MedianLabel,clusters:post1Clusters,top:post1TopDensity,right:post1RightDensity,points:post1Points},
 {xTicks:post2XTicks,yTicks:post2YTicks,quadrants:post2Quadrants,median:post2Median,medianLabel:post2MedianLabel,clusters:post2Clusters,top:post2TopDensity,right:post2RightDensity,points:post2Points},
 {xTicks:post3XTicks,yTicks:post3YTicks,quadrants:post3Quadrants,median:post3Median,medianLabel:post3MedianLabel,clusters:post3Clusters,top:post3TopDensity,right:post3RightDensity,points:post3Points},
 {xTicks:post4XTicks,yTicks:post4YTicks,quadrants:post4Quadrants,median:post4Median,medianLabel:post4MedianLabel,clusters:post4Clusters,top:post4TopDensity,right:post4RightDensity,points:post4Points},
 {xTicks:post5XTicks,yTicks:post5YTicks,quadrants:post5Quadrants,median:post5Median,medianLabel:post5MedianLabel,clusters:post5Clusters,top:post5TopDensity,right:post5RightDensity,points:post5Points}
];
const thresholdValue=.2;

const NS="http://www.w3.org/2000/svg";
const root=document.getElementById("figure");
function make(tag,parent,attrs,text){
  const el=document.createElementNS(NS,tag);
  for(const k in attrs)el.setAttribute(k,attrs[k]);
  if(text!==undefined)el.textContent=text;
  parent.appendChild(el);
  return el;
}
function linear(domain,range){
  return v=>range[0]+(v-domain[0])*(range[1]-range[0])/(domain[1]-domain[0]);
}
function parseTick(s){return Number(s.replace("−","-"));}
function smoothPath(pts){
  let d="";
  for(let i=0;i<pts.length-1;i++){
    const p0=pts[Math.max(i-1,0)],p1=pts[i],p2=pts[i+1],p3=pts[Math.min(i+2,pts.length-1)];
    const c1=[p1[0]+(p2[0]-p0[0])/6,p1[1]+(p2[1]-p0[1])/6];
    const c2=[p2[0]-(p3[0]-p1[0])/6,p2[1]-(p3[1]-p1[1])/6];
    d+=`C${c1[0].toFixed(2)} ${c1[1].toFixed(2)} ${c2[0].toFixed(2)} ${c2[1].toFixed(2)} ${p2[0].toFixed(2)} ${p2[1].toFixed(2)}`;
  }
  return d;
}
const TOP_H=21.5,RIGHT_W=23,RIGHT_GAP=2.2;

panelLayouts.forEach((layout,idx)=>{
  const s=panelSeries[idx];
  const [l,t,r,b]=layout.box;
  const xScale=linear(layout.xDomain,[l,r]);
  const yScale=linear(layout.yDomain,[b,t]);
  const g=make("g",root,{});
  
  

  const letter=make("text",g,{x:layout.letterPos[0],y:layout.letterPos[1],"font-size":36,fill:"#111"},layout.letter);
  
  
  const title=make("text",g,{x:layout.titlePos[0],y:layout.titlePos[1],"font-size":19.8,fill:"#222"},layout.title);
  
  

  // top marginal density
  const topPts=s.top.map(p=>[xScale(p[0]),t-.5-p[1]*TOP_H]);
  const topBase=t-.5;
  const topFill=make("path",g,{d:`M${topPts[0][0]} ${topBase}L${topPts[0][0]} ${topPts[0][1]}`+smoothPath(topPts)+`L${topPts[topPts.length-1][0]} ${topBase}Z`,fill:"#b36bc9",stroke:"none"});
  
  
  const topLine=make("path",g,{d:`M${topPts[0][0]} ${topPts[0][1]}`+smoothPath(topPts),fill:"none",stroke:"#8f4fa6","stroke-width":1.1});
  
  

  // right marginal density
  const rBase=r+RIGHT_GAP;
  const rightPts=s.right.map(p=>[rBase+p[1]*RIGHT_W,yScale(p[0])]);
  const rightFill=make("path",g,{d:`M${rBase} ${rightPts[0][1]}L${rightPts[0][0]} ${rightPts[0][1]}`+smoothPath(rightPts)+`L${rBase} ${rightPts[rightPts.length-1][1]}Z`,fill:"#a5cee3",stroke:"none"});
  
  
  const rightLine=make("path",g,{d:`M${rightPts[0][0]} ${rightPts[0][1]}`+smoothPath(rightPts),fill:"none",stroke:"#3788b8","stroke-width":1.5});
  
  

  // plot background
  const bg=make("rect",g,{x:l,y:t,width:r-l,height:b-t,fill:"#fff"});
  
  

  // dense clusters of overlapping cells
  s.clusters.forEach(c=>{
    const rect=make("rect",g,{x:xScale(c[0]),y:yScale(c[3]),width:xScale(c[1])-xScale(c[0]),height:yScale(c[2])-yScale(c[3]),rx:2,fill:"url(#speckle)"});
    
    
  });

  // points
  s.points.forEach(p=>{
    const dot=make("circle",g,{cx:xScale(p[0]).toFixed(2),cy:yScale(p[1]).toFixed(2),r:2.3,fill:"#5eb64e",stroke:"#86cb79","stroke-width":.5});
    
    
  });

  // thresholds
  const vLine=make("line",g,{x1:xScale(thresholdValue),x2:xScale(thresholdValue),y1:t,y2:b,stroke:"#fdbf7c","stroke-width":1.7,"stroke-dasharray":"6 4"});
  
  
  const hLine=make("line",g,{x1:l,x2:r,y1:yScale(thresholdValue),y2:yScale(thresholdValue),stroke:"#fdbf7c","stroke-width":1.7,"stroke-dasharray":"6 4"});
  
  

  // median marker + label
  const mx=xScale(s.median[0]),my=yScale(s.median[1]);
  const marker=make("polygon",g,{points:`${mx-5.8},${my} ${mx},${my-5.8} ${mx+5.8},${my} ${mx},${my+5.8}`,fill:"#f00"});
  
  
  const mLabel=make("text",g,{x:mx+5.3,y:my+.3,"font-size":layout.labelSize,fill:"#222","dominant-baseline":"central"},s.medianLabel);
  
  

  // quadrant labels
  const qL=l+layout.qInset[0],qR=r-layout.qInset[1];
  const qPos=[[qR,t+15.7,"end"],[qL,t+15.7,"start"],[qL,b-14,"start"],[qR,b-14,"end"]];
  s.quadrants.forEach((q,i)=>{
    const qt=make("text",g,{x:qPos[i][0],y:qPos[i][1],"font-size":13.9,fill:"#222","text-anchor":qPos[i][2],"dominant-baseline":"central"},q);
    
    
  });

  // frame
  const frame=make("rect",g,{x:l,y:t,width:r-l,height:b-t,fill:"none",stroke:"#444","stroke-width":1.5});
  
  

  // x axis
  s.xTicks.forEach(lbl=>{
    const x=xScale(parseTick(lbl));
    const tick=make("line",g,{x1:x,x2:x,y1:b,y2:b+3.5,stroke:"#555","stroke-width":1});
    
    
    const tl=make("text",g,{x:x,y:b+13.6,"font-size":13.9,fill:"#666","text-anchor":"middle","dominant-baseline":"central"},lbl);
    
    
  });
  // y axis
  s.yTicks.forEach(lbl=>{
    const y=yScale(parseTick(lbl));
    const tick=make("line",g,{x1:l-3.5,x2:l,y1:y,y2:y,stroke:"#555","stroke-width":1});
    
    
    const tl=make("text",g,{x:l-7.5,y:y+.3,"font-size":13.9,fill:"#666","text-anchor":"end","dominant-baseline":"central"},lbl);
    
    
  });

  const xTitle=make("text",g,{x:(l+r)/2-3,y:b+33,"font-size":18.3,fill:"#222","text-anchor":"middle","dominant-baseline":"central"},"HER2");
  
  
  const yc=(t+b)/2-3;
  const yTitle=make("text",g,{x:layout.yTitleX,y:yc,"font-size":18.6,fill:"#222","text-anchor":"middle","dominant-baseline":"central",transform:`rotate(-90 ${layout.yTitleX} ${yc})`},"HSPA1A");
  
  
});
</script>
</body>
</html>
